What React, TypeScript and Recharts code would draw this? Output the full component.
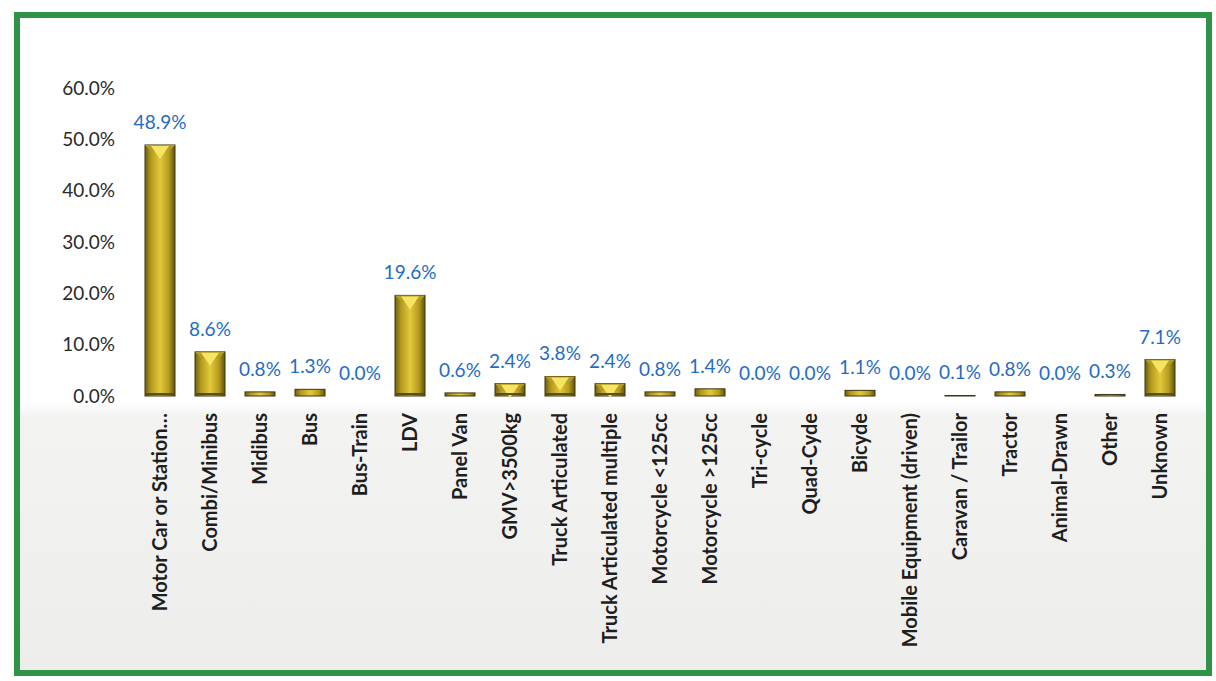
import { BarChart, Bar, XAxis, YAxis, LabelList } from 'recharts';

const categories = [
  'Motor Car or Station…',
  'Combi/Minibus',
  'Midibus',
  'Bus',
  'Bus-Train',
  'LDV',
  'Panel Van',
  'GMV>3500kg',
  'Truck Articulated',
  'Truck Articulated multiple',
  'Motorcycle <125cc',
  'Motorcycle >125cc',
  'Tri-cycle',
  'Quad-Cyde',
  'Bicyde',
  'Mobile Equipment (driven)',
  'Caravan / Trailor',
  'Tractor',
  'Animal-Drawn',
  'Other',
  'Unknown',
];

const shares = [48.9, 8.6, 0.8, 1.3, 0.0, 19.6, 0.6, 2.4, 3.8, 2.4, 0.8, 1.4, 0.0, 0.0, 1.1, 0.0, 0.1, 0.8, 0.0, 0.3, 7.1];

const yTicks = [0, 10, 20, 30, 40, 50, 60];

const data = categories.map((name, i) => ({ name, value: shares[i] }));

const pct = (v: number) => `${v.toFixed(1)}%`;

// golden bevelled column like the Excel 3D-ish style
function GoldBar(props: any) {
  const { x, y, width, height } = props;
  if (!height || height <= 0) return null;
  const b = Math.min(6, height / 2);
  const mid = x + width / 2;
  return (
    <g>
      <rect x={x} y={y} width={width} height={height} fill="url(#goldH)" stroke="#3f370c" strokeWidth={1} />
      {height > 8 && (
        <>
          <polygon points={`${x},${y} ${x + width},${y} ${x + width - b},${y + b} ${x + b},${y + b}`} fill="#b39d24" />
          <polygon points={`${x + b},${y + 1} ${x + width - b},${y + 1} ${mid},${y + b + 8}`} fill="#f5e563" />
          <rect x={x + 1} y={y + height - 3} width={width - 2} height={2} fill="#5a4e10" />
        </>
      )}
    </g>
  );
}

function XTick(props: any) {
  const { x, y, payload } = props;
  return (
    <text
      x={0}
      y={0}
      transform={`translate(${x + 7},${y + 9}) rotate(-90)`}
      textAnchor="end"
      fontFamily="Lato, sans-serif"
      fontWeight={700}
      fontSize={20}
      fill="#1e1e1e"
    >
      {payload.value}
    </text>
  );
}

export default function App() {
  return (
    <div style={{ position: 'absolute', left: 0, top: 0, width: 1216, height: 681, background: '#ffffff', overflow: 'hidden' }}>
      <div
        style={{
          position: 'absolute',
          left: 14,
          top: 12,
          width: 1186,
          height: 652,
          border: '6px solid #2f9447',
          background: 'linear-gradient(to bottom, #ffffff 0%, #ffffff 59%, #f3f3f2 61%, #ededec 100%)',
        }}
      />
      <div style={{ position: 'absolute', left: 0, top: 0 }}>
        <BarChart width={1216} height={681} data={data} margin={{ top: 88, right: 31, bottom: 0, left: 0 }}>
          <defs>
            <linearGradient id="goldH" x1="0" y1="0" x2="1" y2="0">
              <stop offset="0%" stopColor="#6e5f10" />
              <stop offset="20%" stopColor="#b49a1e" />
              <stop offset="50%" stopColor="#e2c93a" />
              <stop offset="80%" stopColor="#b49a1e" />
              <stop offset="100%" stopColor="#5e5110" />
            </linearGradient>
          </defs>
          <XAxis
            dataKey="name"
            interval={0}
            tick={<XTick />}
            tickLine={false}
            axisLine={false}
            height={285}
          />
          <YAxis
            domain={[0, 60]}
            ticks={yTicks}
            tickFormatter={pct}
            width={135}
            tickLine={false}
            axisLine={false}
            tickMargin={14}
            tick={{ fill: '#2a2a2a', fontSize: 19, fontFamily: 'Lato, sans-serif' }}
          />
          <Bar dataKey="value" barSize={30} shape={<GoldBar />} isAnimationActive={false}>
            <LabelList
              dataKey="value"
              position="top"
              offset={16}
              formatter={(v: any) => pct(Number(v))}
              fill="#1f6cc4"
              fontSize={19}
              fontFamily="Lato, sans-serif"
            />
          </Bar>
        </BarChart>
      </div>
    </div>
  );
}
